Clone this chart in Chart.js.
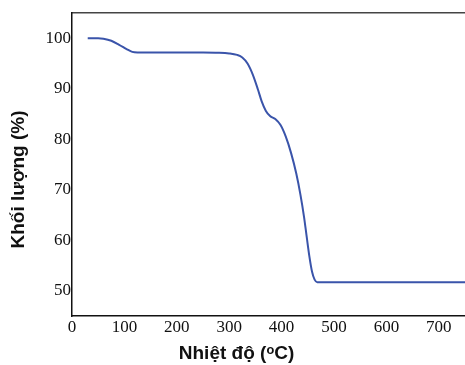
<!DOCTYPE html>
<html>
<head>
<meta charset="utf-8">
<script src="https://cdn.jsdelivr.net/npm/chart.js@4.4.0/dist/chart.umd.min.js"></script>
<style>
  body { margin: 0; background: #fff; }
  #wrap { width: 465px; height: 365px; }
</style>
</head>
<body>
<div id="wrap"><canvas id="tga"></canvas></div>
<script>
// Du lieu TGA doc tu hinh
var nhietDo = [30, 50, 60, 75, 90, 105, 115, 125, 150, 200, 250, 280, 300, 315, 325, 335, 345, 355, 362, 370, 378, 388, 398, 408, 418, 428, 436, 443, 448, 453, 458, 463, 468, 500, 600, 700, 750];
var khoiLuong = [100, 100, 99.9, 99.5, 98.7, 97.8, 97.3, 97.2, 97.2, 97.2, 97.2, 97.15, 97.0, 96.7, 96.2, 95.0, 92.8, 89.8, 87.5, 85.6, 84.6, 84.0, 82.8, 80.5, 77.3, 73.2, 69.0, 64.5, 60.6, 56.8, 53.8, 52.2, 51.7, 51.7, 51.7, 51.7, 51.7];
var xTicks = [0, 100, 200, 300, 400, 500, 600, 700];
var yTicks = [50, 60, 70, 80, 90, 100];
var xTitle = "Nhiệt độ (ᵒC)";
var yTitle = "Khối lượng (%)";

var points = nhietDo.map(function(t, i) {
  return { x: t, y: khoiLuong[i] };
});

var tickFont = { family: "'Liberation Serif', 'Times New Roman', serif", size: 17 };

// Ve ten truc
var tieuDeTruc = {
  id: "tieuDeTruc",
  afterDraw: function(chart) {
    var ctx = chart.ctx;
    var area = chart.chartArea;
    ctx.save();
    ctx.fillStyle = "#111";
    ctx.font = "bold 19px 'Liberation Sans', Arial, sans-serif";
    ctx.textAlign = "center";
    ctx.textBaseline = "middle";
    ctx.fillText(xTitle, area.left + (area.right - area.left) / 2 - 32, 354);
    ctx.translate(19, area.top + (area.bottom - area.top) / 2 + 15);
    ctx.rotate(-Math.PI / 2);
    ctx.fillText(yTitle, 0, 0);
    ctx.restore();
  }
};

var chartCanva = document.getElementById("tga");

var tgaChart = new Chart(chartCanva, {
  type: "line",
  data: {
    datasets: [{
      data: points,
      borderColor: "rgb(58, 84, 170)",
      borderWidth: 2,
      pointRadius: 0,
      fill: false,
      cubicInterpolationMode: "monotone"
    }]
  },
  options: {
    responsive: true,
    maintainAspectRatio: false,
    animation: false,
    layout: { padding: { top: 13, right: 0, left: 0, bottom: 0 } },
    plugins: {
      legend: { display: false },
      tooltip: { enabled: false }
    },
    scales: {
      x: {
        type: "linear",
        min: 0,
        max: 750,
        afterBuildTicks: function(scale) {
          scale.ticks = xTicks.map(function(v) { return { value: v }; });
        },
        afterFit: function(scale) { scale.height = 49; },
        grid: { display: false, drawTicks: false },
        border: { display: true, color: "#111", width: 1.5 },
        ticks: { color: "#111", font: tickFont, padding: 1, maxRotation: 0 }
      },
      xTop: {
        type: "linear",
        position: "top",
        min: 0,
        max: 750,
        afterFit: function(scale) { scale.height = 0; },
        grid: { display: false, drawTicks: false },
        border: { display: true, color: "#444", width: 1.5 },
        ticks: { display: false }
      },
      y: {
        min: 45,
        max: 105,
        afterBuildTicks: function(scale) {
          scale.ticks = yTicks.map(function(v) { return { value: v }; });
        },
        afterFit: function(scale) { scale.width = 72; },
        grid: { display: false, drawTicks: false },
        border: { display: true, color: "#111", width: 1.5 },
        ticks: { color: "#111", font: tickFont, padding: 1 }
      }
    }
  },
  plugins: [tieuDeTruc]
});
</script>
</body>
</html>
